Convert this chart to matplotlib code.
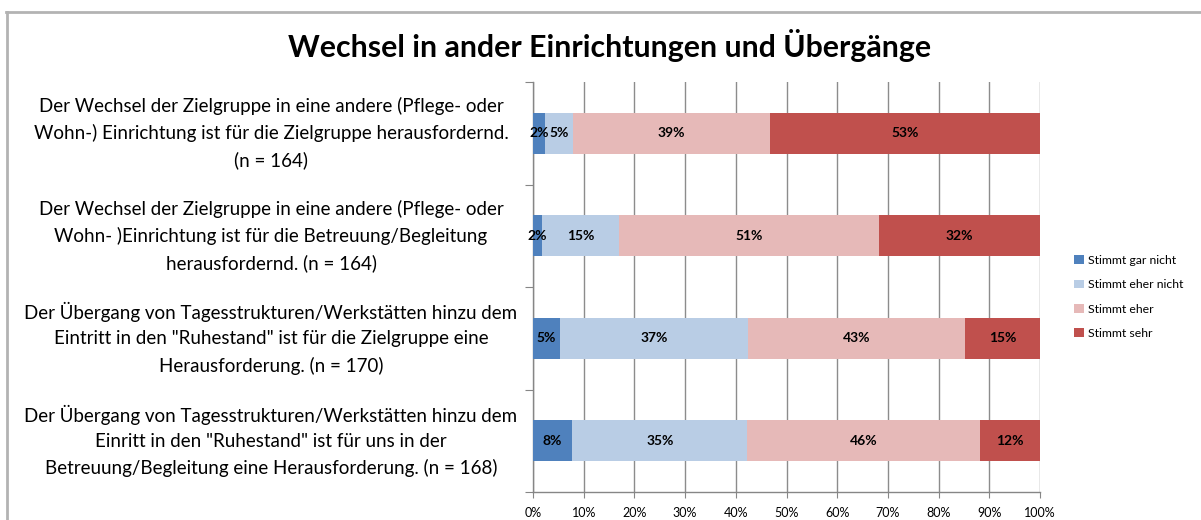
import matplotlib
matplotlib.use("Agg")
import matplotlib.pyplot as plt
from matplotlib.lines import Line2D
from matplotlib.patches import Patch
from matplotlib.transforms import blended_transform_factory
import numpy as np

plt.rcParams['font.family'] = ['Lato', 'DejaVu Sans']

title = "Wechsel in ander Einrichtungen und Übergänge"

statements = [
    "Der Wechsel der Zielgruppe in eine andere (Pflege- oder\nWohn-) Einrichtung ist für die Zielgruppe herausfordernd.\n(n = 164)",
    "Der Wechsel der Zielgruppe in eine andere (Pflege- oder\nWohn- )Einrichtung ist für die Betreuung/Begleitung\nherausfordernd. (n = 164)",
    "Der Übergang von Tagesstrukturen/Werkstätten hinzu dem\nEintritt in den \"Ruhestand\" ist für die Zielgruppe eine\nHerausforderung. (n = 170)",
    "Der Übergang von Tagesstrukturen/Werkstätten hinzu dem\nEinritt in den \"Ruhestand\" ist für uns in der\nBetreuung/Begleitung eine Herausforderung. (n = 168)",
]

series_names = ["Stimmt gar nicht", "Stimmt eher nicht", "Stimmt eher", "Stimmt sehr"]

# Share of answers per statement, in percent
gar_nicht = [2.4, 1.8, 5.3, 7.7]
eher_nicht = [5.4, 15.2, 37.1, 34.6]
eher = [39.0, 51.2, 42.9, 45.8]
sehr = [53.2, 31.8, 14.7, 11.9]

x_ticks = [0, 10, 20, 30, 40, 50, 60, 70, 80, 90, 100]
x_tick_labels = ["0%", "10%", "20%", "30%", "40%", "50%", "60%", "70%", "80%", "90%", "100%"]

colors = ["#4F81BD", "#B9CDE5", "#E6B9B8", "#C0504D"]

W, H = 1201, 520
fig = plt.figure(figsize=(W / 100, H / 100), dpi=100)
fig.patch.set_facecolor("white")

ax = fig.add_axes([533 / W, 1 - 492 / H, (1040 - 533) / W, (492 - 82) / H])

y = np.arange(len(statements))
left = np.zeros(len(statements))
for name, vals, col in zip(series_names, [gar_nicht, eher_nicht, eher, sehr], colors):
    vals = np.array(vals)
    ax.barh(y, vals, left=left, height=0.4, color=col, label=name, zorder=3)
    for yi, l, v in zip(y, left, vals):
        ax.text(l + v / 2, yi, f"{v:.0f}%", ha="center", va="center",
                fontsize=10, fontweight="bold", color="black", zorder=4)
    left += vals

ax.set_xlim(0, 100)
ax.set_ylim(len(statements) - 0.5, -0.5)

ax.set_xticks(x_ticks)
ax.set_xticklabels(x_tick_labels, fontsize=9)
ax.tick_params(axis="x", length=4, color="#868686", pad=7)
ax.xaxis.grid(True, color="#8c8c8c", linewidth=1.0, zorder=0)

ax.set_yticks(np.arange(-0.5, len(statements), 1.0))
ax.set_yticklabels([])
ax.tick_params(axis="y", length=6, color="#868686")

for s in ["top", "right"]:
    ax.spines[s].set_visible(False)
for s in ["left", "bottom"]:
    ax.spines[s].set_color("#868686")
    ax.spines[s].set_linewidth(1.0)

trans = blended_transform_factory(fig.transFigure, ax.transData)
for yi, txt in zip(y, statements):
    ax.text(271 / W, yi, txt, transform=trans, ha="center", va="center",
            fontsize=13.5, linespacing=1.6, color="black", multialignment="center")

fig.text(610 / W, 1 - 45 / H, title, ha="center", va="center",
         fontsize=21.8, fontweight="bold", color="black")

handles = [Patch(facecolor=c, edgecolor="none") for c in colors]
fig.legend(handles, series_names, loc="center left",
           bbox_to_anchor=(1072 / W, 1 - 297 / H), frameon=False,
           fontsize=8.8, handlelength=0.75, handleheight=0.75, handletextpad=0.4,
           labelspacing=1.1, borderpad=0.2, borderaxespad=0.0)

# Chart-area frame
frame_col = "#b3b3b3"
fig.add_artist(Line2D([7 / W, 7 / W], [0, 1 - 12 / H], transform=fig.transFigure,
                      color=frame_col, linewidth=2))
fig.add_artist(Line2D([6 / W, 1], [1 - 12 / H, 1 - 12 / H], transform=fig.transFigure,
                      color=frame_col, linewidth=2))

fig.savefig("out.png", dpi=100, facecolor="white")
